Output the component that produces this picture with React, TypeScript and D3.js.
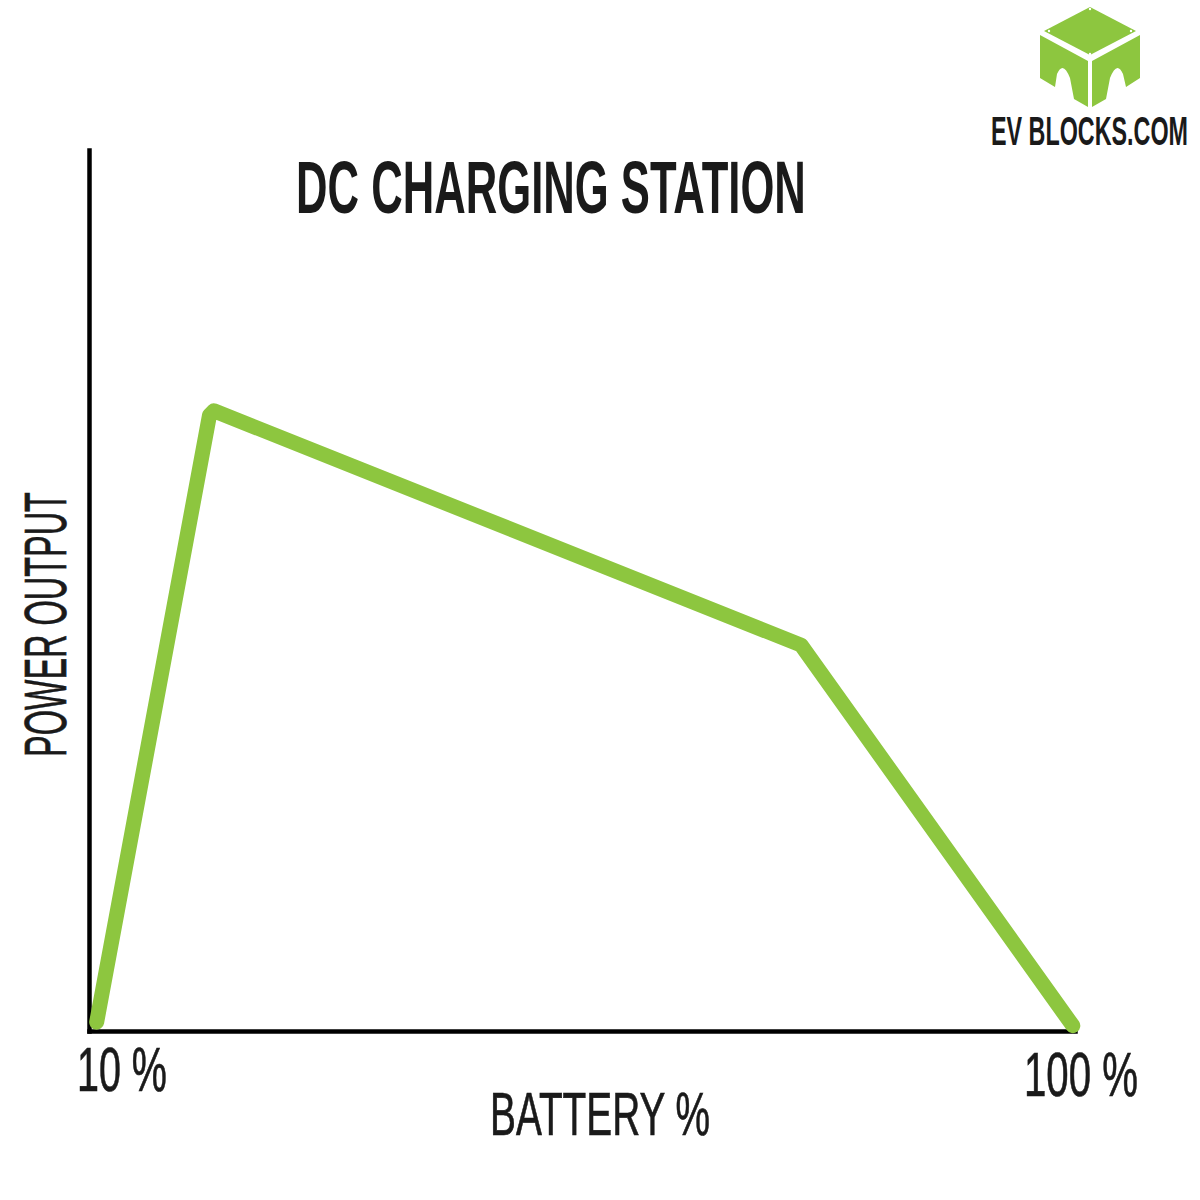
import * as d3 from "d3";
import { useEffect, useRef } from "react";

const batteryPct = [10.7, 21.0, 21.4, 75.0, 99.8];
const powerOutput = [1.0, 69.9, 70.4, 43.8, 0.6];
const titleText = "DC CHARGING STATION";
const xLabel = "BATTERY %";
const yLabel = "POWER OUTPUT";
const brandText = "EV BLOCKS.COM";
const xEndLabels = ["10 %", "100 %"];

const GREEN = "#8dc63f";
const INK = "#1a1a1a";
const FONT = "'Liberation Sans Narrow', 'Liberation Sans', sans-serif";

export default function App() {
  const ref = useRef<SVGSVGElement>(null);

  useEffect(() => {
    const svg = d3.select(ref.current);
    svg.selectAll("*").remove();

    const xScale = d3.scaleLinear().domain([10, 100]).range([89, 1075]);
    const yScale = d3.scaleLinear().domain([0, 100]).range([1031, 150]);

    const xAxis = d3.axisBottom(xScale).tickValues([]).tickSizeOuter(0);
    const yAxis = d3.axisLeft(yScale).tickValues([]).tickSizeOuter(0);

    svg.append("g")
      .attr("transform", `translate(0, ${yScale(0)})`)
      .call(xAxis)
      .select(".domain")
      .attr("stroke", "#000")
      .attr("stroke-width", 4.5)
      .attr("stroke-linecap", "square");

    svg.append("g")
      .attr("transform", `translate(${xScale(10)}, 0)`)
      .call(yAxis)
      .select(".domain")
      .attr("stroke", "#000")
      .attr("stroke-width", 4.5)
      .attr("stroke-linecap", "square");

    const line = d3.line<number>()
      .x((d) => xScale(batteryPct[d]))
      .y((d) => yScale(powerOutput[d]));

    svg.append("path")
      .attr("d", line(d3.range(batteryPct.length)))
      .attr("fill", "none")
      .attr("stroke", GREEN)
      .attr("stroke-width", 15)
      .attr("stroke-linecap", "round")
      .attr("stroke-linejoin", "round");

    // the original font is not installed, so squeeze each text to its measured width
    const addText = (
      label: string, x: number, y: number, size: number, width: number, weight: string, rotate = 0
    ) => {
      const t = svg.append("text")
        .attr("font-family", FONT)
        .attr("font-size", size)
        .attr("font-weight", weight)
        .attr("fill", INK)
        .attr("stroke", INK)
        .attr("stroke-width", weight === "bold" ? 0 : 0.7)
        .text(label);
      const natural = (t.node() as SVGTextElement).getComputedTextLength();
      t.attr("transform", `translate(${x}, ${y}) rotate(${rotate}) scale(${width / natural}, 1)`);
    };

    addText(titleText, 296, 213, 75, 510, "bold");
    addText(brandText, 991, 145, 40, 197, "bold");
    addText(xEndLabels[0], 77, 1091, 63, 90, "normal");
    addText(xEndLabels[1], 1024, 1096, 63, 114, "normal");
    addText(xLabel, 490, 1135, 62, 220, "normal");
    addText(yLabel, 66, 757, 60, 265, "normal", -90);

    // logo cube
    const logo = svg.append("g").attr("fill", GREEN);
    logo.append("path").attr("d", "M1090 7 L1136 31 L1090 55 L1044 31 Z");
    logo.append("path").attr("d", "M1040 35 L1088 61 L1088 107 L1074 99 L1070 78 Q1063 60 1057 74 L1055 87 L1040 78 Z");
    logo.append("path").attr("d", "M1140 35 L1092 61 L1092 107 L1106 99 L1110 78 Q1117 60 1123 74 L1126 87 L1140 78 Z");
    logo.append("g").attr("fill", "#fff")
      .selectAll("circle")
      .data([[1090, 9], [1049, 31], [1131, 31], [1090, 54]])
      .join("circle")
      .attr("cx", (d) => d[0])
      .attr("cy", (d) => d[1])
      .attr("r", 1.2);
  }, []);

  return (
    <div style={{ position: "absolute", top: 0, left: 0 }}>
      <svg ref={ref} width={1200} height={1200} style={{ display: "block", background: "#fff" }}></svg>
    </div>
  );
}
